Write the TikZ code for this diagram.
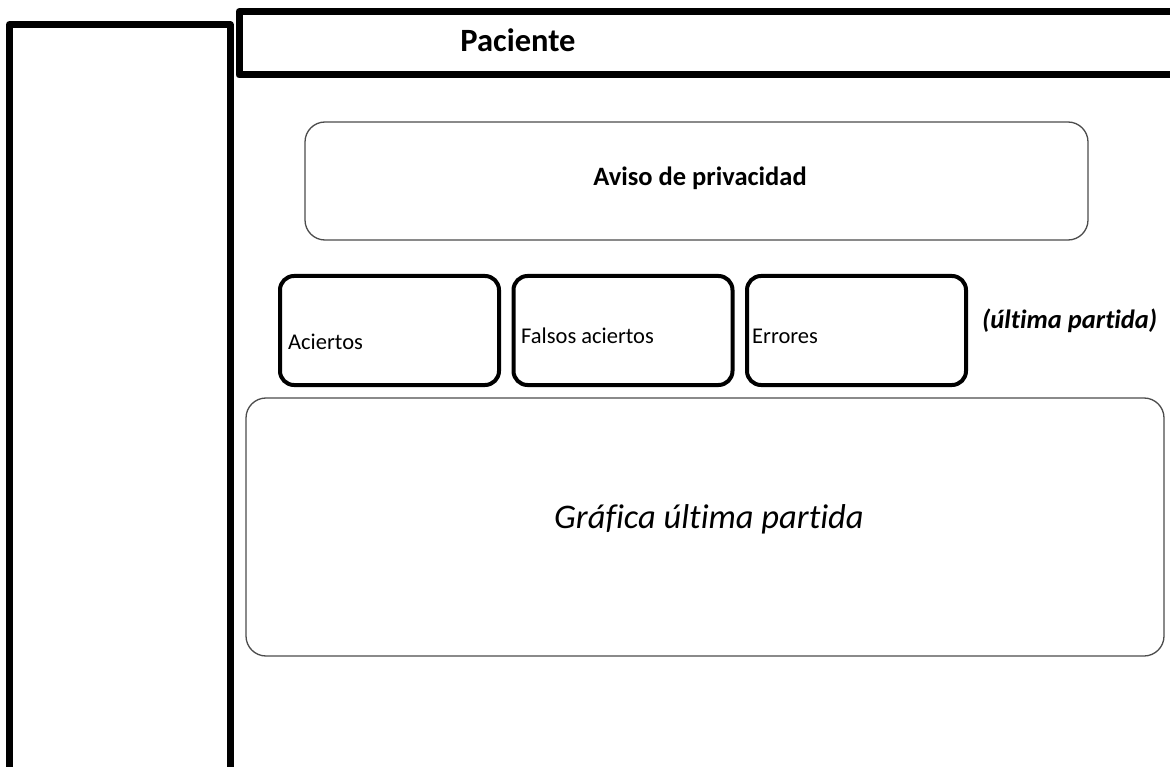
\documentclass[tikz,border=0pt]{standalone}
\usepackage{fontspec}
\setmainfont[Ligatures=NoCommon]{Carlito}
\begin{document}
\begin{tikzpicture}[x=1pt,y=-1pt,line cap=round,line join=round]
		\useasboundingbox (0,0) rectangle (1170,767);
		\def\dx{233.5};
		\def\bw{219};
		
		% marcos gruesos
		\draw[line width=7, line cap=butt] (9.5,780) -- (9.5,24.5) -- (230,24.5) -- (230,780);
		\draw[line width=7, line cap=butt] (1180,11.5) -- (239,11.5) -- (239,75) -- (1180,75);
		\node[anchor=base, inner sep=0] (paciente) at (518,52) {\fontsize{32.5}{38}\selectfont\bfseries Paciente};
		
		\draw[line width=1.3, color=black!70, rounded corners=20] (305,122) rectangle (1088,240);
		\node[anchor=base, inner sep=0] (aviso) at (700,186) {\fontsize{26.5}{31}\selectfont\bfseries Aviso de privacidad};
		
		\foreach \i in {0, 1, 2}
		{
			\draw[line width=4, rounded corners=14] (280+\i*\dx,276) rectangle (280+\bw+\i*\dx,385);
		}
		\node[anchor=base west, inner sep=0] (aciertos) at (288,349) {\fontsize{22.5}{27}\selectfont Aciertos};
		\node[anchor=base west, inner sep=0] (falsos) at (521,344) {\fontsize{22.5}{27}\selectfont Falsos aciertos};
		\node[anchor=base west, inner sep=0] (errores) at (752,344) {\fontsize{22.5}{27}\selectfont Errores};
		\node[anchor=base west, inner sep=0] (ultima) at (982,328) {\fontsize{26.5}{31}\selectfont\bfseries\itshape (última partida)};
		
		\draw[line width=1.3, color=black!70, rounded corners=20] (246,398) rectangle (1164,656);
		\node[anchor=base, inner sep=0] (grafica) at (709,528) {\fontsize{34.5}{40}\selectfont\itshape Gráfica última partida};
		
	\end{tikzpicture}
\end{document}
